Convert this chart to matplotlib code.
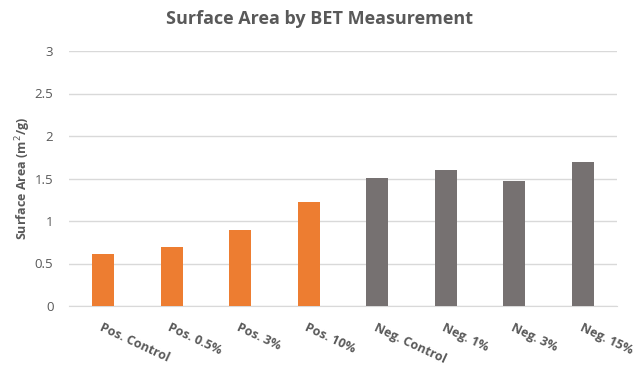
import matplotlib
matplotlib.use('Agg')
import matplotlib.pyplot as plt
import numpy as np

# 数据
categories = ['Pos. Control', 'Pos. 0.5%', 'Pos. 3%', 'Pos. 10%',
              'Neg. Control', 'Neg. 1%', 'Neg. 3%', 'Neg. 15%']
surface_area = [0.61, 0.69, 0.89, 1.22, 1.51, 1.60, 1.47, 1.70]
bar_colors = ['#ED7D31'] * 4 + ['#767171'] * 4
y_ticks = [0, 0.5, 1, 1.5, 2, 2.5, 3]
y_tick_labels = ['0', '0.5', '1', '1.5', '2', '2.5', '3']

plt.rcParams['font.family'] = ['Open Sans', 'DejaVu Sans']
text_color = '#595959'

fig = plt.figure(figsize=(6.4, 3.7), dpi=100)
ax = fig.add_axes([68.7 / 640, 1 - 306 / 370, (617.3 - 68.7) / 640, (306 - 51) / 370])

x = np.arange(len(categories))
ax.bar(x, surface_area, width=0.32, color=bar_colors, zorder=3)

ax.set_xlim(-0.5, len(categories) - 0.5)
ax.set_ylim(0, 3)
ax.set_yticks(y_ticks)
ax.set_yticklabels(y_tick_labels, fontsize=9.5, color=text_color)
ax.set_xticks(x)
ax.set_xticklabels(categories, rotation=-25, ha='left', va='top',
                   rotation_mode='anchor', fontsize=9, fontweight='bold', color=text_color)
ax.tick_params(axis='both', length=0)
ax.tick_params(axis='y', pad=11)
ax.tick_params(axis='x', pad=11)

ax.yaxis.grid(True, color='#D9D9D9', linewidth=1, zorder=0)
for s in ['top', 'right', 'left']:
    ax.spines[s].set_visible(False)
ax.spines['bottom'].set_color('#D9D9D9')

ax.set_ylabel('Surface Area (m$^2$/g)', fontsize=9, fontweight='bold', color=text_color)
ax.yaxis.set_label_coords(-0.065, 0.5)
fig.text(0.5, 1 - 19 / 370, 'Surface Area by BET Measurement', ha='center', va='center',
         fontsize=13, fontweight='bold', color=text_color)

fig.savefig('out.png', dpi=100)
